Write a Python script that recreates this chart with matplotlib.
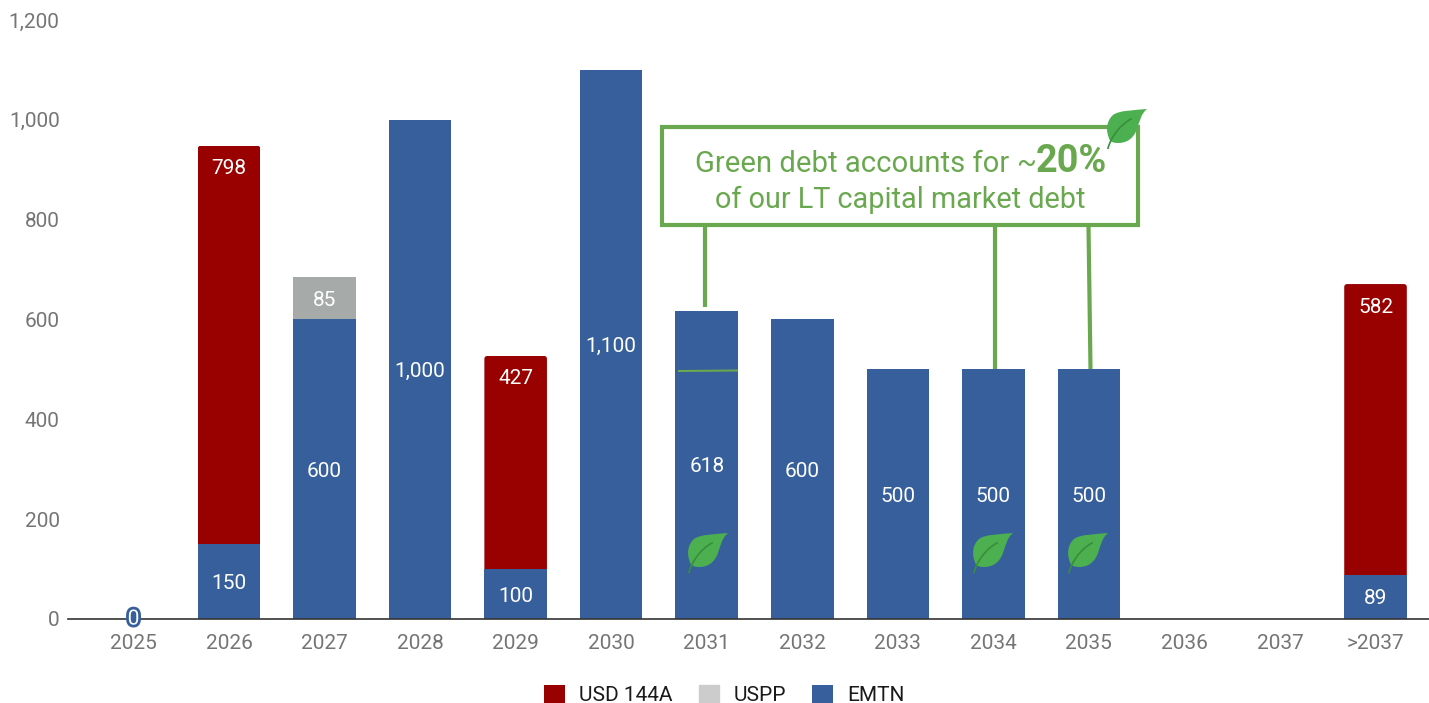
import matplotlib.pyplot as plt
from matplotlib.patches import FancyBboxPatch, PathPatch, Rectangle
from matplotlib.path import Path
import matplotlib.patheffects as pe
import numpy as np

plt.rcParams["font.family"] = ["Roboto", "DejaVu Sans"]

years = ["2025", "2026", "2027", "2028", "2029", "2030", "2031", "2032",
         "2033", "2034", "2035", "2036", "2037", ">2037"]
emtn = [0, 150, 600, 1000, 100, 1100, 618, 600, 500, 500, 500, 0, 0, 89]
uspp = [0, 0, 85, 0, 0, 0, 0, 0, 0, 0, 0, 0, 0, 0]
usd_144a = [0, 798, 0, 0, 427, 0, 0, 0, 0, 0, 0, 0, 0, 582]
y_ticks = [0, 200, 400, 600, 800, 1000, 1200]

BLUE = "#365f9b"
RED = "#990000"
GREY = "#a6abaa"
GREEN = "#6aa84f"
LEAF = "#4caf50"
W, H = 1429, 703
FS = 15

fig = plt.figure(figsize=(W / 100, H / 100), dpi=100)
ax = fig.add_axes([68 / W, 1 - 619 / H, (W - 68) / W, 599 / H])

x = np.arange(len(years))
emtn = np.array(emtn)
uspp = np.array(uspp)
usd_144a = np.array(usd_144a)
bar_w = 0.655
px_per_cat = 95.54
px_per_unit = 599 / 1200

b_usd = ax.bar(x, usd_144a, bar_w, bottom=emtn + uspp, color=RED, label="USD 144A")
b_uspp = ax.bar(x, uspp, bar_w, bottom=emtn, color=GREY, label="USPP")
b_emtn = ax.bar(x, emtn, bar_w, color=BLUE, label="EMTN")

# round the top corners of the red segments
for r in b_usd:
    if r.get_height() > 0:
        clip = FancyBboxPatch((r.get_x(), r.get_y() - 40), r.get_width(), r.get_height() + 40,
                              boxstyle="round,pad=0,rounding_size=0.03",
                              mutation_aspect=px_per_cat / px_per_unit,
                              transform=ax.transData)
        r.set_clip_path(clip)

# value labels, centred in each segment
dy = -4
for i in x:
    if emtn[i] > 0:
        ax.text(i, emtn[i] / 2 + dy, f"{emtn[i]:,}", color="white", fontsize=FS,
                ha="center", va="center")
    if uspp[i] > 0:
        ax.text(i, emtn[i] + uspp[i] / 2 + dy, f"{uspp[i]:,}", color="white", fontsize=FS,
                ha="center", va="center")
    if usd_144a[i] > 0:
        ax.text(i, emtn[i] + uspp[i] + usd_144a[i] - 42 + dy, f"{usd_144a[i]:,}", color="white",
                fontsize=FS, ha="center", va="center")

ax.text(0, 0, "0", color="white", fontsize=FS, ha="center", va="center",
        path_effects=[pe.withStroke(linewidth=4, foreground=BLUE)], zorder=5)

ax.set_xlim((68 - 133.5) / px_per_cat, (W - 133.5) / px_per_cat)
ax.set_ylim(0, 1200)
ax.set_xticks(x, years)
ax.set_yticks(y_ticks, [f"{v:,}" for v in y_ticks])
ax.tick_params(length=0, labelsize=FS, labelcolor="#757575")
ax.tick_params(axis="x", pad=11)
ax.tick_params(axis="y", pad=6)
for s in ["top", "right", "left"]:
    ax.spines[s].set_visible(False)
ax.spines["bottom"].set_color("#333333")
ax.spines["bottom"].set_linewidth(1.2)
ax.patch.set_alpha(0)

leg = fig.legend(handles=[b_usd[0], b_uspp[0], b_emtn[0]], labels=["USD 144A", "USPP", "EMTN"],
                 loc="center left", bbox_to_anchor=(544 / W, 1 - 695 / H), ncol=3,
                 frameon=False, fontsize=FS, labelcolor="#1a1a1a", handlelength=1.0,
                 handleheight=1.0, handletextpad=0.68, columnspacing=1.25,
                 borderpad=0, borderaxespad=0)
leg.legend_handles[1].set_color("#cccccc")

# overlay in pixel coordinates for the callout
ov = fig.add_axes([0, 0, 1, 1])
ov.set_xlim(0, W)
ov.set_ylim(H, 0)
ov.axis("off")


def draw_leaf(x0, y0, s):
    # leaf outline with stem, unit box with y pointing down
    body = Path([(0.07, 0.78),
                 (-0.04, 0.55), (-0.02, 0.3), (0.15, 0.15),
                 (0.3, 0.03), (0.7, 0.03), (1.0, 0.0),
                 (0.85, 0.12), (0.82, 0.3), (0.75, 0.5),
                 (0.65, 0.78), (0.45, 0.85), (0.28, 0.85),
                 (0.18, 0.85), (0.11, 0.83), (0.07, 0.78)],
                [Path.MOVETO] + [Path.CURVE4] * 15)
    vein = Path([(0.02, 1.0), (0.08, 0.75), (0.3, 0.4), (0.62, 0.24)],
                [Path.MOVETO, Path.CURVE4, Path.CURVE4, Path.CURVE4])
    xy = body.vertices * s + (x0, y0)
    ov.add_patch(PathPatch(Path(xy, body.codes), fc=LEAF, ec="none", zorder=6))
    xy = vein.vertices * s + (x0, y0)
    ov.add_patch(PathPatch(Path(xy, vein.codes), fc="none", ec="#388e3c", lw=1.2, zorder=7))


for x0, y0, x1, y1 in [(705, 226, 705, 307), (995, 226, 995, 369), (1088.5, 226, 1090.5, 369)]:
    ov.plot([x0, x1], [y0, y1], color=GREEN, lw=3, solid_capstyle="butt")
ov.plot([679, 737], [371, 370.5], color=GREEN, lw=1.5)

ov.add_patch(Rectangle((662.5, 127), 476, 98, fc="white", ec=GREEN, lw=3, zorder=2))
ov.text(695, 172, "Green debt accounts for", color=GREEN, fontsize=21.1, ha="left",
        va="baseline", zorder=3)
ov.text(1016, 172, "~", color=GREEN, fontsize=21.1, ha="left", va="baseline", zorder=3)
ov.text(1036, 172, "20%", color=GREEN, fontsize=27.3, fontweight="bold", ha="left",
        va="baseline", zorder=3)
ov.text(900.5, 207.5, "of our LT capital market debt", color=GREEN, fontsize=20.8,
        ha="center", va="baseline", zorder=3)

draw_leaf(1107, 109, 40)
for x0 in [688, 973, 1068]:
    draw_leaf(x0, 533, 40)

fig.savefig("out.png", dpi=100)
